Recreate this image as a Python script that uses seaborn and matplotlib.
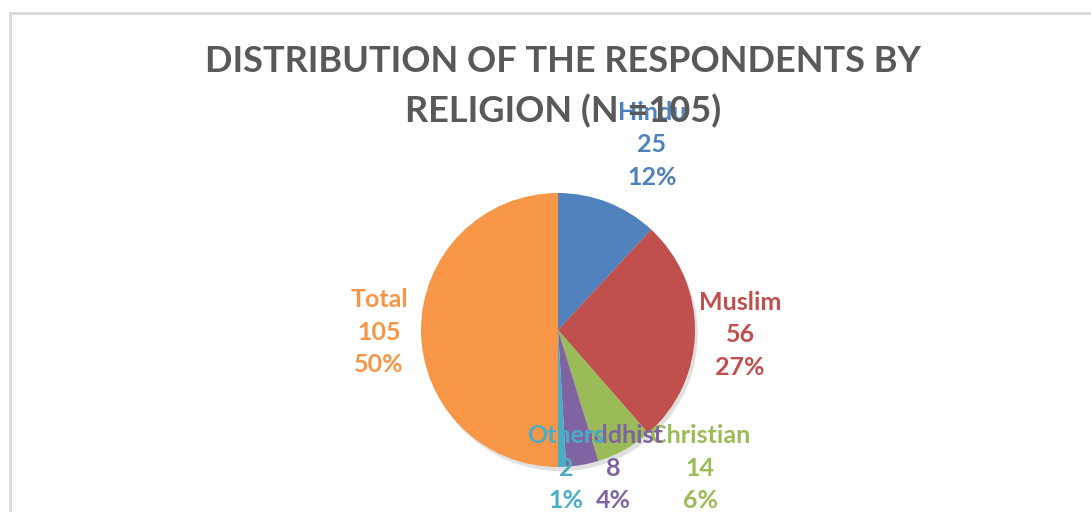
import matplotlib.pyplot as plt
import matplotlib.patches as mpatches
import seaborn as sns

# ---------------------------------------------
# Data
# ---------------------------------------------
religions = ['Hindu', 'Muslim', 'Christian', 'Buddhist', 'Others', 'Total']
counts = [25, 56, 14, 8, 2, 105]
pct_labels = ['12%', '27%', '6%', '4%', '1%', '50%']
colors = ['#4F81BD', '#C0504D', '#9BBB59', '#8064A2', '#4BACC6', '#F79646']

# label block centres in pixel coords (x, y from top), Excel "best fit" style
label_pos = [(652, 145), (740, 335), (700, 468), (613, 468), (566, 468), (379, 332)]

sns.set_theme(style='white')
plt.rcParams['font.family'] = ['Lato', 'DejaVu Sans']

W, H = 1091, 512
cx, cy, R = 558, 330, 137

fig = plt.figure(figsize=(W / 100, H / 100), dpi=100)
ax = fig.add_axes([0, 0, 1, 1])

# soft shadow under the pie
ax.add_patch(mpatches.Circle((0.02, -0.03), 1.0, color='#000000', alpha=0.12, lw=0))

ax.pie(counts, colors=colors, startangle=90, counterclock=False, radius=1,
       wedgeprops=dict(linewidth=0))

ax.set_xlim(-cx / R, (W - cx) / R)
ax.set_ylim(-(H - cy) / R, cy / R)
ax.set_aspect('equal')
ax.axis('off')


def px(x, y):
    return (x - cx) / R, (cy - y) / R


for name, n, p, c, (lx, ly) in zip(religions, counts, pct_labels, colors, label_pos):
    for k, txt in enumerate([name, str(n), p]):
        ax.text(*px(lx, ly + (k - 1) * 32.5), txt, color=c, fontsize=18,
                fontweight='bold', ha='center', va='center')

# title
fig.text(563 / W, 1 - 62 / H, 'DISTRIBUTION OF THE RESPONDENTS BY', color='#595959',
         fontsize=26, fontweight='bold', ha='center', va='center')
fig.text(563 / W, 1 - 111 / H, 'RELIGION (N =105)', color='#595959',
         fontsize=26, fontweight='bold', ha='center', va='center')

# chart area border
fig.patches.append(mpatches.Rectangle((10 / W, -0.1), 1.2, 1.1 - 13 / H,
                                      transform=fig.transFigure, fill=False,
                                      edgecolor='#D9D9D9', linewidth=2))

plt.savefig('out.png', dpi=100)
